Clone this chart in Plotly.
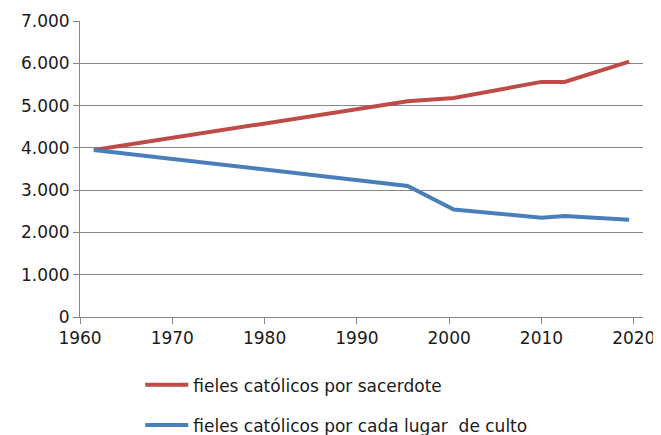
import plotly.graph_objects as go

years = [1961.5, 1995.5, 2000.5, 2010, 2012.5, 2019.5]
por_sacerdote = [3950, 5100, 5180, 5560, 5560, 6040]
por_lugar_culto = [3950, 3100, 2540, 2350, 2390, 2300]

names = ["fieles católicos por sacerdote", "fieles católicos por cada lugar  de culto"]
colors = ["#BE4B48", "#4A7EBB"]

fig = go.Figure()
for i, (vals, nm, col) in enumerate(zip([por_sacerdote, por_lugar_culto], names, colors)):
    fig.add_trace(go.Scatter(
        x=years, y=vals, mode="lines", name=nm,
        line=dict(color=col, width=4),
        legendgroup=str(i),
    ))

font = dict(family="DejaVu Sans, sans-serif", size=17, color="#1a1a1a")
# page body has an 8px default margin, so the figure is a bit smaller than the window
fig.update_layout(
    width=653, height=427,
    margin=dict(l=72, r=18, t=13, b=118, autoexpand=False),
    paper_bgcolor="white", plot_bgcolor="white",
    separators=",.",
    showlegend=True,
    legend=dict(
        x=0.107, y=-0.17, xanchor="left", yanchor="top",
        font=font, itemwidth=43,
        tracegroupgap=15, bgcolor="rgba(0,0,0,0)",
    ),
    xaxis=dict(
        range=[1960, 2021], tickvals=[1960, 1970, 1980, 1990, 2000, 2010, 2020],
        showgrid=False, showline=True, linecolor="#868686", linewidth=1,
        ticks="outside", ticklen=6, tickcolor="#868686", tickfont=font,
        zeroline=False,
    ),
    yaxis=dict(
        range=[0, 7000], tickvals=[0, 1000, 2000, 3000, 4000, 5000, 6000, 7000],
        tickformat=",d",
        showgrid=True, gridcolor="#868686", gridwidth=1,
        showline=True, linecolor="#868686", linewidth=1,
        ticks="outside", ticklen=6, tickcolor="#868686", tickfont=font,
        zeroline=False,
    ),
)

fig.write_html("out.html")
